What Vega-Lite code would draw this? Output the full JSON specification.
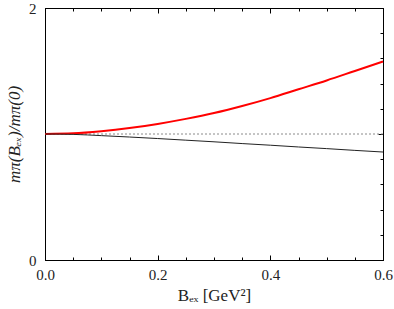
{
  "$schema": "https://vega.github.io/schema/vega-lite/v6.json",
  "autosize": {"type": "none"},
  "width": 338,
  "height": 252,
  "padding": {"left": 45, "top": 8, "right": 11, "bottom": 49},
  "background": "white",
  "config": {
    "view": {"stroke": "black", "strokeWidth": 1},
    "font": "Liberation Serif",
    "axis": {"grid": false, "domainColor": "black", "tickColor": "black", "labelColor": "#222", "titleColor": "#222", "labelFont": "Liberation Serif", "titleFont": "Liberation Serif", "labelFontSize": 15, "titleFontSize": 17, "titleFontWeight": "normal"}
  },
  "datasets": {
    "curves": [
      {"series": "red", "x": 0.0, "y": 1.0},
      {"series": "red", "x": 0.05, "y": 1.005},
      {"series": "red", "x": 0.1, "y": 1.022},
      {"series": "red", "x": 0.15, "y": 1.047},
      {"series": "red", "x": 0.2, "y": 1.08},
      {"series": "red", "x": 0.25, "y": 1.12},
      {"series": "red", "x": 0.3, "y": 1.166},
      {"series": "red", "x": 0.35, "y": 1.222},
      {"series": "red", "x": 0.4, "y": 1.285},
      {"series": "red", "x": 0.45, "y": 1.355},
      {"series": "red", "x": 0.5, "y": 1.425},
      {"series": "red", "x": 0.55, "y": 1.5},
      {"series": "red", "x": 0.6, "y": 1.575},
      {"series": "black", "x": 0.0, "y": 1.0},
      {"series": "black", "x": 0.05, "y": 0.997},
      {"series": "black", "x": 0.1, "y": 0.987},
      {"series": "black", "x": 0.15, "y": 0.976},
      {"series": "black", "x": 0.2, "y": 0.964},
      {"series": "black", "x": 0.25, "y": 0.951},
      {"series": "black", "x": 0.3, "y": 0.938},
      {"series": "black", "x": 0.35, "y": 0.924},
      {"series": "black", "x": 0.4, "y": 0.911},
      {"series": "black", "x": 0.45, "y": 0.897},
      {"series": "black", "x": 0.5, "y": 0.884},
      {"series": "black", "x": 0.55, "y": 0.87},
      {"series": "black", "x": 0.6, "y": 0.857}
    ],
    "ref": [
      {"x": 0.0, "y": 1.0},
      {"x": 0.6, "y": 1.0}
    ]
  },
  "layer": [
    {
      "data": {"name": "ref"},
      "mark": {"type": "line", "color": "#8a8a8a", "strokeWidth": 1, "strokeDash": [2, 2]},
      "encoding": {
        "x": {"field": "x", "type": "quantitative", "scale": {"domain": [0, 0.6], "nice": false},
              "axis": {"orient": "top", "values": [0,0.05,0.1,0.15,0.2,0.25,0.3,0.35,0.4,0.45,0.5,0.55,0.6], "labels": false, "title": null, "tickSize": {"expr": "abs(datum.value*5 - round(datum.value*5)) < 0.001 ? -5 : -3"}}},
        "y": {"field": "y", "type": "quantitative", "scale": {"domain": [0, 2], "nice": false},
              "axis": {"orient": "right", "values": [0,0.2,0.4,0.6,0.8,1,1.2,1.4,1.6,1.8,2], "labels": false, "title": null, "tickSize": {"expr": "abs(datum.value - round(datum.value)) < 0.001 ? -5 : -3"}}}
      }
    },
    {
      "data": {"name": "curves"},
      "mark": {"type": "line", "interpolate": "monotone"},
      "encoding": {
        "x": {"field": "x", "type": "quantitative", "scale": {"domain": [0, 0.6], "nice": false},
              "axis": {"orient": "bottom", "values": [0,0.05,0.1,0.15,0.2,0.25,0.3,0.35,0.4,0.45,0.5,0.55,0.6], "format": ".1f",
                       "labelExpr": "abs(datum.value*5 - round(datum.value*5)) < 0.001 ? datum.label : ''",
                       "tickSize": {"expr": "abs(datum.value*5 - round(datum.value*5)) < 0.001 ? -5 : -3"},
                       "labelPadding": 12, "labelFlush": false, "labelOverlap": false, "title": "Bₑₓ [GeV²]", "titlePadding": 3}},
        "y": {"field": "y", "type": "quantitative", "scale": {"domain": [0, 2], "nice": false},
              "axis": {"orient": "left", "values": [0,0.2,0.4,0.6,0.8,1,1.2,1.4,1.6,1.8,2], "format": "d",
                       "labelExpr": "abs(datum.value - round(datum.value)) < 0.001 ? datum.label : ''",
                       "tickSize": {"expr": "abs(datum.value - round(datum.value)) < 0.001 ? -5 : -3"},
                       "labelPadding": 14, "labelFlush": false, "labelOverlap": false, "title": "mπ(Bₑₓ)/mπ(0)", "titleFontStyle": "italic", "titlePadding": 5}},
        "color": {"field": "series", "type": "nominal", "scale": {"domain": ["red", "black"], "range": ["#ff0000", "#222222"]}, "legend": null},
        "strokeWidth": {"field": "series", "type": "nominal", "scale": {"domain": ["red", "black"], "range": [2, 1]}, "legend": null}
      }
    }
  ],
  "resolve": {"axis": {"x": "independent", "y": "independent"}}
}
